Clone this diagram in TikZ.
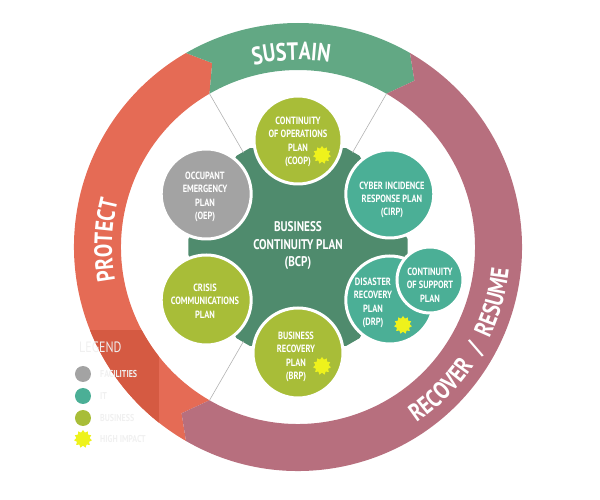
\documentclass[tikz,border=0pt]{standalone}
\usepackage{fontspec}
\newfontfamily\cond[FakeStretch=0.8]{PT Sans}
\usetikzlibrary{shapes.geometric,decorations.text}
\definecolor{sustaingreen}{HTML}{62A884}
\definecolor{protectred}{HTML}{E56B55}
\definecolor{protectdark}{HTML}{D55A42}
\definecolor{recoverpink}{HTML}{B76F7E}
\definecolor{bcpgreen}{HTML}{4F8B6D}
\definecolor{bizgreen}{HTML}{A8BD38}
\definecolor{itteal}{HTML}{4BAF96}
\definecolor{facgrey}{HTML}{A3A3A3}
\definecolor{staryellow}{HTML}{EEF21C}
\definecolor{faint}{HTML}{F0F0F0}
\begin{document}
\begin{tikzpicture}[x=1pt,y=1pt,
  plancircle/.style={circle, draw=white, line width=3pt, inner sep=0pt, minimum size=88pt},
  plantext/.style={text=white, align=center, inner sep=0pt, font=\cond\bfseries\fontsize{10.5}{13.3}\selectfont},
  starmark/.style={star, star points=11, star point ratio=1.35, fill=staryellow, inner sep=0pt, minimum size=18pt},
  legdot/.style={circle, inner sep=0pt, minimum size=16pt},
  legtext/.style={text=faint, anchor=west, inner sep=0pt, font=\cond\bfseries\fontsize{10}{10}\selectfont},
  guide/.style={draw=black!30, line width=0.6pt},
  ringfont/.style={decorate, decoration={text along path, text align=center,
     text={|\cond\bfseries\fontsize{25}{25}\selectfont\color{white}|#1}}},
  ringfit/.style={decorate, decoration={text along path, text align=fit to path stretching spaces,
     text={|\cond\bfseries\fontsize{25}{25}\selectfont\color{white}|#1}}}
]
\useasboundingbox (-298,-253) rectangle (302,247);

% ring segments
\fill[protectred] (240:224) arc[start angle=240, end angle=120, radius=224] -- (115:203) -- (120:177)
   arc[start angle=120, end angle=240, radius=177] -- (235:203) -- cycle;
\fill[sustaingreen] (120:224) arc[start angle=120, end angle=60, radius=224] -- (55:203) -- (60:177)
   arc[start angle=60, end angle=120, radius=177] -- (115:203) -- cycle;
\fill[recoverpink] (60:224) arc[start angle=60, end angle=-120, radius=224] -- (-125:203) -- (-120:177)
   arc[start angle=-120, end angle=60, radius=177] -- (55:203) -- cycle;

% legend backdrop over the ring
\begin{scope}
  \clip (-238,-84) rectangle (-139,-203);
  \fill[protectdark] (240:224) arc[start angle=240, end angle=120, radius=224] -- (115:203) -- (120:177)
     arc[start angle=120, end angle=240, radius=177] -- (235:203) -- cycle;
\end{scope}

% ring labels
\path[ringfont=SUSTAIN] (122:187) arc[start angle=122, end angle=62, radius=187];
\path[ringfont=PROTECT] (208:186) arc[start angle=208, end angle=148, radius=186];
\path[ringfit={RECOVER / RESUME}] (-56:212) arc[start angle=-56, end angle=-6, radius=212];

% central hexagon
\fill[bcpgreen] (-4:110) -- (4:110) -- (56:110) -- (64:110) -- (116:110) -- (124:110) -- (176:110)
  -- (184:110) -- (236:110) -- (244:110) -- (296:110) -- (304:110) -- cycle;

% guide lines
\coordinate (h60) at (60:109);  \coordinate (r60) at (60:177);
\coordinate (h120) at (120:109); \coordinate (r120) at (120:177);
\coordinate (h240) at (240:109); \coordinate (r240) at (240:177);
\draw[guide] (h60) -- (r60);
\draw[guide] (h120) -- (r120);
\draw[guide] (h240) -- (r240);

\node[text=white, align=center, inner sep=0pt, font=\cond\bfseries\fontsize{14}{17.5}\selectfont] (bcp) at (0,1) {BUSINESS\\CONTINUITY PLAN\\(BCP)};

% plan circles
\node[plancircle, fill=bizgreen] (coop) at (90:107) {};
\node[plancircle, fill=itteal] (cirp) at (30:106) {};
\node[plancircle, fill=facgrey, minimum size=90pt] (oep) at (150:106) {};
\node[plancircle, fill=bizgreen, minimum size=90pt] (crisis) at (210:106) {};
\node[plancircle, fill=bizgreen, minimum size=90pt] (brp) at (270:106) {};
\node[plancircle, fill=itteal] (drp) at (-30:106) {};
\node[plancircle, fill=itteal, minimum size=66pt] (cosp) at (132,-33) {};

\node[plantext] (cooptext) at (0,105) {CONTINUITY\\OF OPERATIONS\\PLAN\\(COOP)};
\node[plantext] (cirptext) at (94,47) {CYBER INCIDENCE\\RESPONSE PLAN\\(CIRP)};
\node[plantext] (oeptext) at (-93,50) {OCCUPANT\\EMERGENCY\\PLAN\\(OEP)};
\node[plantext] (crisistext) at (-93,-54) {CRISIS\\COMMUNICATIONS\\PLAN};
\node[plantext] (brptext) at (-2,-110) {BUSINESS\\RECOVERY\\PLAN\\(BRP)};
\node[plantext] (drptext) at (75,-56) {DISASTER\\RECOVERY\\PLAN\\(DRP)};
\node[plantext] (cosptext) at (132,-38) {CONTINUITY\\OF SUPPORT\\PLAN};

\node[starmark] (coopstar) at (24,92) {};
\node[starmark] (drpstar) at (105,-78) {};
\node[starmark] (brpstar) at (24,-119) {};

% legend
\node[text=faint, anchor=west, inner sep=0pt, font=\cond\fontsize{15}{15}\selectfont] (legtitle) at (-219,-100) {LEGEND};
\node[legdot, fill=facgrey] (legfac) at (-215,-127) {};
\node[legdot, fill=itteal] (legit) at (-215,-149) {};
\node[legdot, fill=bizgreen] (legbiz) at (-215,-171) {};
\node[starmark] (legstar) at (-215,-192) {};
\node[legtext] (legfactext) at (-198,-127) {FACILITIES};
\node[legtext] (legittext) at (-198,-149) {IT};
\node[legtext] (legbiztext) at (-198,-171) {BUSINESS};
\node[legtext] (legstartext) at (-198,-192) {HIGH IMPACT};
\end{tikzpicture}
\end{document}
